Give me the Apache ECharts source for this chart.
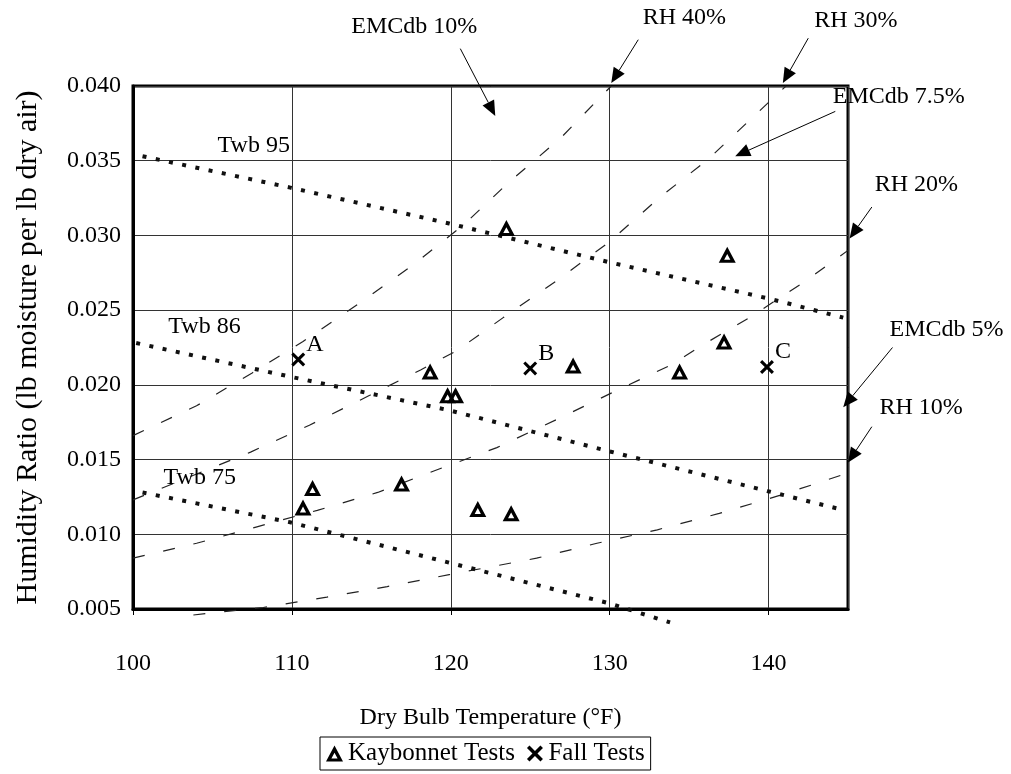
<!DOCTYPE html>
<html>
<head>
<meta charset="utf-8">
<script src="https://cdn.jsdelivr.net/npm/echarts@6/dist/echarts.min.js"></script>
<style>
  html, body { margin: 0; padding: 0; background: #fff; }
  #chart { width: 1011px; height: 774px; }
</style>
</head>
<body>
<div id="chart"></div>
<script>
// Test points: [dry bulb °F, humidity ratio]
const kaybonnetTests = [
  [123.5, 0.0305], [137.4, 0.0287], [118.7, 0.0209], [119.8, 0.0193], [120.3, 0.0193],
  [127.7, 0.0213], [134.4, 0.0209], [137.2, 0.0229], [111.3, 0.0131], [110.7, 0.0118],
  [116.9, 0.0134], [121.7, 0.0117], [123.8, 0.0114]
];
const fallTests = [[110.4, 0.0217], [125.0, 0.0211], [139.9, 0.0212]];
const fallLabels = ['A', 'B', 'C'];

// Relative humidity curves
const rh40 = [[100, 0.0166], [104, 0.0186], [107.5, 0.0208], [110.7, 0.0229], [114.3, 0.0255],
  [117.6, 0.0280], [120.8, 0.0307], [123.7, 0.0336], [126.9, 0.0365], [130.1, 0.0400]];
const rh30 = [[100, 0.0123], [107.4, 0.0155], [111.1, 0.0173], [114.9, 0.0193], [118.1, 0.0210],
  [120.4, 0.0223], [123.3, 0.0245], [126.7, 0.0270], [129.9, 0.0295], [133.1, 0.0325],
  [136.2, 0.0351], [139.3, 0.0382], [141.1, 0.0400]];
const rh20 = [[100, 0.0084], [104, 0.0094], [107.8, 0.0105], [111.6, 0.0116], [115.4, 0.0128],
  [119.1, 0.0143], [122.9, 0.0158], [126.7, 0.0177], [130.2, 0.0195], [133.8, 0.0213],
  [135.9, 0.0227], [138.8, 0.0245], [142.4, 0.0270], [145, 0.0290]];
const rh10 = [[103.8, 0.0046], [108.2, 0.0051], [112.2, 0.0058], [116, 0.0065], [119.9, 0.0073],
  [125.4, 0.0084], [129.2, 0.0094], [133, 0.0103], [136.9, 0.0114], [140.7, 0.0126], [145, 0.0141]];

// Wet bulb lines
const twb95 = [[100.6, 0.0353], [109.9, 0.0332], [119.9, 0.0308], [130.0, 0.0282], [140.3, 0.0257], [144.7, 0.0245]];
const twb86 = [[100.2, 0.0228], [110.1, 0.0205], [119.9, 0.0183], [129.8, 0.0156], [139.9, 0.0129], [144.8, 0.0116]];
const twb75 = [[100.6, 0.0128], [109.9, 0.0108], [119.9, 0.0081], [129.9, 0.0054], [133.8, 0.0041]];

// Curve names written next to the wet bulb lines
const curveNames = ['Twb 95', 'Twb 86', 'Twb 75'];
const curveNameAt = [[107.6, 0.0360], [104.5, 0.0239], [104.2, 0.0138]];

// Callouts with arrows (data units)
const noteTexts = ['EMCdb 10%', 'RH 40%', 'RH 30%', 'EMCdb 7.5%', 'RH 20%', 'EMCdb 5%', 'RH 10%'];
const noteTextAt = [[117.7, 0.0440], [134.7, 0.04455], [145.5, 0.0444], [148.2, 0.0393], [149.3, 0.0334], [151.2, 0.0237], [149.6, 0.0185]];
const noteArrowFrom = [[120.6, 0.0425], [131.8, 0.0431], [142.5, 0.0432], [144.2, 0.0383], [146.5, 0.0319], [147.8, 0.0225], [146.5, 0.0172]];
const noteArrowTo = [[122.8, 0.0380], [130.1, 0.0402], [140.9, 0.0402], [137.9, 0.0353], [145.1, 0.0298], [144.7, 0.0185], [145.0, 0.0148]];

const FONT = '"Liberation Serif", "Times New Roman", "DejaVu Serif", serif';
const TRI = 'path://M8.5,0 L17,16 L0,16 Z M8.5,7.2 L5.4,13 L11.6,13 Z';
const XMARK = 'path://M0,2.2 L2.2,0 L7,4.8 L11.8,0 L14,2.2 L9.2,7 L14,11.8 L11.8,14 L7,9.2 L2.2,14 L0,11.8 L4.8,7 Z';

function rhSeries(data) {
  return {
    type: 'line', data: data, symbol: 'none', clip: false, silent: true, z: 3,
    lineStyle: { color: '#222', width: 1.2, type: [12, 19] }
  };
}
function twbSeries(data) {
  return {
    type: 'line', data: data, symbol: 'none', clip: false, silent: true, z: 4,
    lineStyle: { color: '#111', width: 4, type: [4, 9.5], cap: 'butt' }
  };
}

const chart = echarts.init(document.getElementById('chart'), null, { renderer: 'canvas' });

chart.setOption({
  animation: false,
  backgroundColor: '#fff',
  textStyle: { fontFamily: FONT, color: '#000' },
  grid: {
    left: 133, right: 163, top: 86, bottom: 165,
    containLabel: false, outerBoundsMode: 'none',
    show: true, borderColor: '#000', borderWidth: 3, backgroundColor: 'transparent'
  },
  legend: {
    data: ['Kaybonnet Tests', 'Fall Tests'],
    left: 320, top: 737,
    itemWidth: 17, itemHeight: 16, itemGap: 12,
    borderColor: '#000', borderWidth: 1, borderRadius: 0,
    padding: [4, 6, 4, 6],
    textStyle: { fontFamily: FONT, fontSize: 25, color: '#000' }
  },
  xAxis: {
    type: 'value', min: 100, max: 145, interval: 10,
    name: 'Dry Bulb Temperature (°F)', nameLocation: 'middle', nameGap: 97,
    nameTextStyle: { fontFamily: FONT, fontSize: 24, color: '#000' },
    axisLine: { show: true, lineStyle: { color: '#000', width: 3 } },
    axisTick: { show: true, length: 6, lineStyle: { color: '#000', width: 1 } },
    axisLabel: { fontFamily: FONT, fontSize: 24, color: '#000', margin: 43, showMaxLabel: false },
    splitLine: { show: true, lineStyle: { color: '#333', width: 1 } }
  },
  yAxis: {
    type: 'value', min: 0.005, max: 0.040, interval: 0.005,
    name: 'Humidity Ratio (lb moisture per lb dry air)', nameLocation: 'middle', nameGap: 90, nameRotate: 90,
    nameTextStyle: { fontFamily: FONT, fontSize: 30, color: '#000' },
    axisLine: { show: true, lineStyle: { color: '#000', width: 3 } },
    axisTick: { show: false },
    axisLabel: { fontFamily: FONT, fontSize: 24, color: '#000', margin: 12, formatter: v => v.toFixed(3) },
    splitLine: { show: true, lineStyle: { color: '#333', width: 1 } }
  },
  series: [
    rhSeries(rh40), rhSeries(rh30), rhSeries(rh20), rhSeries(rh10),
    twbSeries(twb95), twbSeries(twb86), twbSeries(twb75),
    {
      name: 'Kaybonnet Tests', type: 'scatter', data: kaybonnetTests, z: 6,
      symbol: TRI, symbolSize: [17, 16], itemStyle: { color: '#000', opacity: 1 }
    },
    {
      name: 'Fall Tests', type: 'scatter', data: fallTests, z: 6,
      symbol: XMARK, symbolSize: 14, itemStyle: { color: '#000', opacity: 1 },
      label: {
        show: true, position: 'right', distance: 1, offset: [0, -15],
        formatter: p => fallLabels[p.dataIndex],
        fontFamily: FONT, fontSize: 24, color: '#000', opacity: 1
      }
    },
    {
      // wet bulb line names
      type: 'custom', data: curveNameAt, clip: false, silent: true, z: 7,
      encode: { x: 0, y: 1 },
      renderItem: function (params, api) {
        const p = api.coord(curveNameAt[params.dataIndex]);
        return {
          type: 'text', x: p[0], y: p[1],
          style: {
            text: curveNames[params.dataIndex], fontFamily: FONT, fontSize: 24, fill: '#000',
            align: 'center', verticalAlign: 'middle'
          }
        };
      }
    },
    {
      // callouts with arrows
      type: 'custom', data: noteTextAt, clip: false, silent: true, z: 8,
      encode: { x: 0, y: 1 },
      renderItem: function (params, api) {
        const i = params.dataIndex;
        const t = api.coord(noteTextAt[i]);
        const a = api.coord(noteArrowFrom[i]);
        const b = api.coord(noteArrowTo[i]);
        const dx = b[0] - a[0], dy = b[1] - a[1];
        const len = Math.sqrt(dx * dx + dy * dy) || 1;
        const ux = dx / len, uy = dy / len;
        const head = 15, half = 6.5;
        const bx = b[0] - ux * head, by = b[1] - uy * head;
        return {
          type: 'group',
          children: [
            {
              type: 'line', shape: { x1: a[0], y1: a[1], x2: bx, y2: by },
              style: { stroke: '#000', lineWidth: 1 }
            },
            {
              type: 'polygon',
              shape: { points: [[b[0], b[1]], [bx - uy * half, by + ux * half], [bx + uy * half, by - ux * half]] },
              style: { fill: '#000' }
            },
            {
              type: 'text', x: t[0], y: t[1],
              style: {
                text: noteTexts[i], fontFamily: FONT, fontSize: 24, fill: '#000',
                align: 'center', verticalAlign: 'middle'
              }
            }
          ]
        };
      }
    }
  ]
});
</script>
</body>
</html>
